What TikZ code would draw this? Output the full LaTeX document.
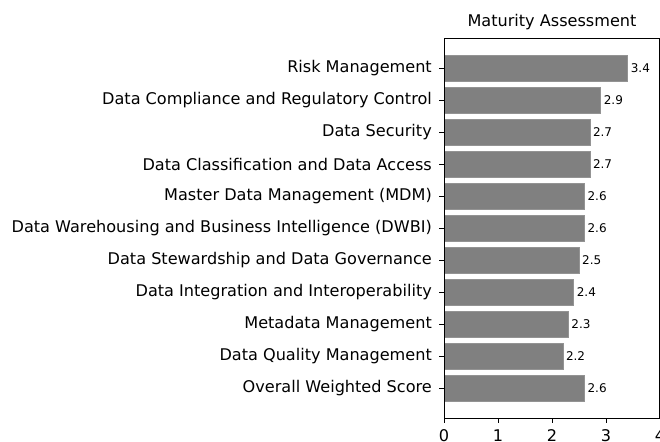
\documentclass[tikz,border=0pt]{standalone}
\usepackage{fontspec}
\setmainfont{DejaVu Sans}
\usetikzlibrary{positioning}

\definecolor{barfill}{RGB}{128,128,128}

\begin{document}
\begin{tikzpicture}[x=1pt,y=-1pt,
    bar/.style={fill=barfill,draw=barfill!85!white,line width=0.5pt},
    spine/.style={draw=black,line width=0.8pt},
    ticklbl/.style={font=\fontsize{16.1}{18}\selectfont,inner sep=0pt},
    vallbl/.style={font=\fontsize{12}{14}\selectfont,inner sep=0pt,anchor=west}]
    \useasboundingbox (0,0) rectangle (660,441);
    \node[ticklbl] (title) at (552,22) {Maturity Assessment};
    % bars, one per practice area
    \foreach \name/\val [count=\i from 0] in {
        Risk Management/3.4,
        Data Compliance and Regulatory Control/2.9,
        Data Security/2.7,
        Data Classification and Data Access/2.7,
        Master Data Management (MDM)/2.6,
        Data Warehousing and Business Intelligence (DWBI)/2.6,
        Data Stewardship and Data Governance/2.5,
        Data Integration and Interoperability/2.4,
        Metadata Management/2.3,
        Data Quality Management/2.2,
        Overall Weighted Score/2.6} {
      \pgfmathsetmacro{\yc}{68+32*\i}
      \pgfmathsetmacro{\xe}{444+54*\val}
      \draw[bar] (444,\yc-12.8) rectangle (\xe,\yc+12.8);
      \node[vallbl] (val\i) at (\xe+3,\yc) {\val};
      \draw[spine] (444,\yc) -- (439,\yc);
      \node[ticklbl,anchor=east] (lbl\i) at (432,\yc) {\name};
    }
    \draw[spine] (444,38) rectangle (659.6,418);
    \foreach \k in {0,...,4} {
      \draw[spine] (444+54*\k,418) -- (444+54*\k,423);
      \node[ticklbl,anchor=north] (xt\k) at (444+54*\k,429.5) {\k};
    }
\end{tikzpicture}
\end{document}
